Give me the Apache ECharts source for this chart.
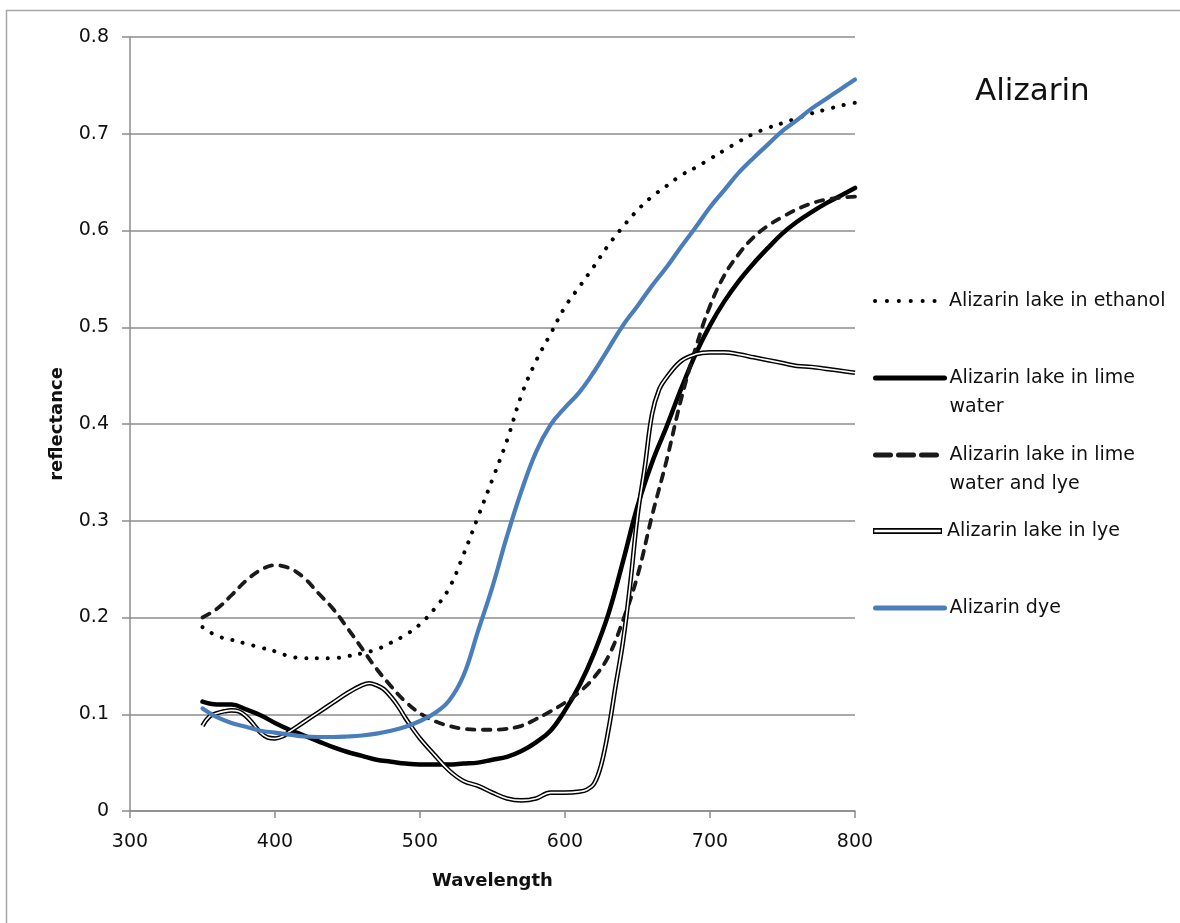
<!DOCTYPE html>
<html>
<head>
<meta charset="utf-8">
<title>Alizarin reflectance</title>
<script src="https://cdn.jsdelivr.net/npm/echarts@6/dist/echarts.min.js"></script>
<style>
  html, body { margin: 0; padding: 0; background: #fff; }
  #chart { width: 1180px; height: 923px; }
</style>
</head>
<body>
<div id="chart"></div>
<script>
// Wavelength grid (nm) shared by most curves
const wavelengths = [
  350, 360, 370, 380, 390, 400, 410, 420, 430, 440,
  450, 460, 470, 480, 490, 500, 510, 520, 530, 540,
  550, 560, 570, 580, 590, 600, 610, 620, 630, 640,
  650, 660, 670, 680, 690, 700, 710, 720, 730, 740,
  750, 760, 770, 780, 790, 800
];

const ethanol = [
  0.190, 0.181, 0.177, 0.173, 0.169, 0.165, 0.160, 0.158, 0.158, 0.158,
  0.160, 0.163, 0.167, 0.174, 0.182, 0.193, 0.209, 0.230, 0.265, 0.304,
  0.343, 0.383, 0.430, 0.465, 0.493, 0.521, 0.542, 0.563, 0.585, 0.604,
  0.621, 0.635, 0.646, 0.657, 0.665, 0.674, 0.683, 0.692, 0.700, 0.706,
  0.711, 0.716, 0.721, 0.725, 0.729, 0.732
];

const limeWater = [
  0.113, 0.110, 0.110, 0.105, 0.099, 0.091, 0.084, 0.078, 0.072, 0.066,
  0.061, 0.057, 0.053, 0.051, 0.049, 0.048, 0.048, 0.048, 0.049, 0.050,
  0.053, 0.056, 0.062, 0.071, 0.083, 0.104, 0.130, 0.163, 0.204, 0.258,
  0.315, 0.360, 0.397, 0.436, 0.472, 0.502, 0.527, 0.548, 0.566, 0.582,
  0.597, 0.609, 0.619, 0.628, 0.636, 0.644
];

const limeWaterLye = [
  0.200, 0.209, 0.223, 0.238, 0.249, 0.254, 0.251, 0.241, 0.225, 0.209,
  0.189, 0.168, 0.147, 0.129, 0.113, 0.101, 0.093, 0.088, 0.085, 0.084,
  0.084, 0.085, 0.088, 0.095, 0.103, 0.112, 0.123, 0.138, 0.160, 0.197,
  0.243, 0.305, 0.362, 0.425, 0.478, 0.522, 0.554, 0.576, 0.593, 0.605,
  0.614, 0.622, 0.628, 0.632, 0.634, 0.635
];

const dye = [
  0.106, 0.097, 0.091, 0.087, 0.083, 0.081, 0.079, 0.077, 0.0765, 0.0765,
  0.077, 0.078, 0.080, 0.083, 0.087, 0.093, 0.101, 0.114, 0.140, 0.186,
  0.232, 0.284, 0.331, 0.371, 0.399, 0.417, 0.433, 0.454, 0.478, 0.502,
  0.522, 0.543, 0.562, 0.583, 0.603, 0.624, 0.642, 0.660, 0.675, 0.689,
  0.703, 0.714, 0.726, 0.736, 0.746, 0.756
];

// The lye curve has sharper features, so it is sampled more finely
const lyeWavelengths = [
  350, 355, 360, 365, 370, 375, 380, 385, 390, 395,
  400, 405, 410, 420, 430, 440, 450, 460, 465, 470,
  475, 480, 485, 490, 495, 500, 510, 520, 530, 540,
  550, 560, 570, 580, 590, 600, 610, 615, 620, 625,
  630, 635, 640, 645, 650, 655, 660, 665, 670, 680,
  690, 700, 710, 720, 730, 740, 750, 760, 770, 780,
  790, 800
];
const lye = [
  0.088, 0.098, 0.101, 0.103, 0.104, 0.103, 0.098, 0.090, 0.081, 0.076,
  0.075, 0.077, 0.082, 0.092, 0.102, 0.112, 0.122, 0.130, 0.132, 0.130,
  0.126, 0.118, 0.108, 0.096, 0.085, 0.075, 0.058, 0.042, 0.031, 0.026,
  0.019, 0.013, 0.011, 0.013, 0.019, 0.019, 0.020, 0.022, 0.028, 0.048,
  0.084, 0.130, 0.175, 0.235, 0.305, 0.355, 0.410, 0.436, 0.448, 0.465,
  0.472, 0.474, 0.474, 0.472, 0.469, 0.466, 0.463, 0.460, 0.459, 0.457,
  0.455, 0.453
];

const seriesNames = [
  'Alizarin lake in ethanol',
  'Alizarin lake in lime water',
  'Alizarin lake in lime water and lye',
  'Alizarin lake in lye',
  'Alizarin dye'
];
const legendLabels = [
  'Alizarin lake in ethanol',
  'Alizarin lake in lime\nwater',
  'Alizarin lake in lime\nwater and lye',
  'Alizarin lake in lye',
  'Alizarin dye'
];

const xTicks = [300, 400, 500, 600, 700, 800];

function pairs(xs, ys) {
  return xs.map((x, i) => [x, ys[i]]);
}

const FONT = 'DejaVu Sans';
const GRID = { left: 130, right: 325, top: 37, bottom: 112 };
const LINE_H = 29;
const legendCenters = [301, 378, 455, 531, 608];

function makeLegend(idx, extra) {
  const multi = legendLabels[idx].indexOf('\n') >= 0;
  const base = {
    left: 873,
    top: legendCenters[idx] - (multi ? 1.5 : 0.5) * LINE_H,
    padding: 0,
    orient: 'vertical',
    itemWidth: 69,
    itemHeight: 14,
    selectedMode: false,
    data: [seriesNames[idx]],
    formatter: () => (multi ? '\n' : '') + legendLabels[idx],
    itemStyle: { opacity: 0 },
    textStyle: { fontFamily: FONT, fontSize: 19, color: '#111', lineHeight: LINE_H }
  };
  return Object.assign(base, extra || {});
}

const chart = echarts.init(document.getElementById('chart'), null, { renderer: 'canvas' });

const option = {
  backgroundColor: '#fff',
  animation: false,
  title: {
    text: 'Alizarin',
    left: 975,
    top: 76,
    padding: 0,
    textStyle: { fontFamily: FONT, fontSize: 31, fontWeight: 'normal', color: '#111' }
  },
  graphic: [{
    type: 'rect',
    shape: { x: 6.5, y: 10.5, width: 1300, height: 1000 },
    style: { fill: 'none', stroke: '#a6a6a6', lineWidth: 1.5 },
    silent: true
  }],
  grid: GRID,
  xAxis: {
    type: 'value',
    min: 300,
    max: 800,
    interval: 100,
    name: 'Wavelength',
    nameLocation: 'middle',
    nameGap: 61,
    nameTextStyle: { fontFamily: FONT, fontSize: 18, fontWeight: 'bold', color: '#111' },
    axisLine: { show: true, lineStyle: { color: '#8c8c8c', width: 1.5 } },
    axisTick: { show: true, inside: false, length: 7, lineStyle: { color: '#8c8c8c', width: 1.5 } },
    axisLabel: {
      margin: 22, fontFamily: FONT, fontSize: 19, color: '#111',
      customValues: xTicks
    },
    splitLine: { show: false }
  },
  yAxis: {
    type: 'value',
    min: 0,
    max: 0.8,
    interval: 0.1,
    name: 'reflectance',
    nameLocation: 'middle',
    nameRotate: 90,
    nameGap: 64,
    nameTextStyle: { fontFamily: FONT, fontSize: 18, fontWeight: 'bold', color: '#111' },
    axisLine: { show: true, lineStyle: { color: '#8c8c8c', width: 1.5 } },
    axisTick: { show: true, inside: false, length: 8, lineStyle: { color: '#8c8c8c', width: 1.5 } },
    axisLabel: {
      margin: 21, fontFamily: FONT, fontSize: 19, color: '#111',
      formatter: v => (Math.round(v * 10) / 10).toString()
    },
    splitLine: { show: true, lineStyle: { color: '#8c8c8c', width: 1.5 } }
  },
  legend: [
    makeLegend(0, { lineStyle: { type: [0.1, 11.8], cap: 'round', width: 4 } }),
    makeLegend(1, { lineStyle: { width: 5 } }),
    makeLegend(2, { lineStyle: { type: [15, 8], cap: 'round', width: 5 } }),
    makeLegend(3, {
      data: [{
        name: seriesNames[3],
        icon: 'path://M0,0L70,0L70,6L0,6Z M1.3,1.8L1.3,4.2L68.7,4.2L68.7,1.8Z',
        itemStyle: { color: '#000', opacity: 1, borderWidth: 0 }
      }],
      itemHeight: 6,
      itemStyle: { color: '#000', opacity: 1, borderWidth: 0 }
    }),
    makeLegend(4, { lineStyle: { width: 5 } })
  ],
  series: [
    {
      name: seriesNames[0],
      type: 'line',
      data: pairs(wavelengths, ethanol),
      smooth: 0.4,
      symbol: 'none',
      lineStyle: { color: '#000', width: 4, type: [0.1, 10.8], cap: 'round' },
      itemStyle: { color: '#000' }
    },
    {
      name: seriesNames[1],
      type: 'line',
      data: pairs(wavelengths, limeWater),
      smooth: 0.4,
      symbol: 'none',
      lineStyle: { color: '#000', width: 4.5, cap: 'round' },
      itemStyle: { color: '#000' }
    },
    {
      name: seriesNames[2],
      type: 'line',
      data: pairs(wavelengths, limeWaterLye),
      smooth: 0.4,
      symbol: 'none',
      lineStyle: { color: '#1a1a1a', width: 3.8, type: [8, 8], cap: 'round' },
      itemStyle: { color: '#1a1a1a' }
    },
    {
      name: seriesNames[3],
      type: 'line',
      data: pairs(lyeWavelengths, lye),
      smooth: 0.4,
      symbol: 'none',
      lineStyle: { color: '#000', width: 4.6 },
      itemStyle: { color: '#000' }
    },
    {
      // white core that turns the lye curve into a double line
      name: 'lye-core',
      type: 'line',
      data: pairs(lyeWavelengths, lye),
      smooth: 0.4,
      symbol: 'none',
      silent: true,
      lineStyle: { color: '#fff', width: 1.6 },
      itemStyle: { color: '#fff' }
    },
    {
      name: seriesNames[4],
      type: 'line',
      data: pairs(wavelengths, dye),
      smooth: 0.4,
      symbol: 'none',
      lineStyle: { color: '#4a7ebb', width: 4.2, cap: 'round' },
      itemStyle: { color: '#4a7ebb' }
    }
  ]
};

chart.setOption(option);
</script>
</body>
</html>
